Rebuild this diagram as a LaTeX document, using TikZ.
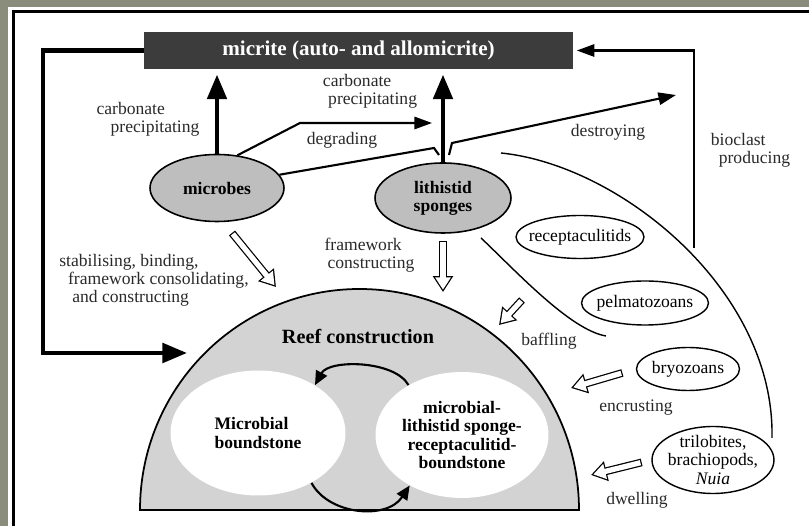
\documentclass[tikz,border=0pt]{standalone}
\usepackage{fontspec}
\setmainfont{Liberation Serif}
\usepackage{xcolor}
\usetikzlibrary{arrows.meta, shapes.geometric, calc}
\definecolor{framegray}{HTML}{8A8C7C}
\definecolor{micritegray}{HTML}{3C3C3C}
\definecolor{biotagray}{HTML}{BEBEBE}
\definecolor{reefgray}{HTML}{D3D3D3}
\definecolor{labelgray}{HTML}{2A2A2A}

\begin{document}
\begin{tikzpicture}[x=0.02cm, y=-0.02cm]

        % 1. Canvas, frame and drawing limits
        \useasboundingbox (0,0) rectangle (809,526);
        \fill[framegray] (0,0) rectangle (809,526);
        \fill[white] (8,7) rectangle (809,526);
        \draw[line width=2.2pt] (13.5,526) -- (13.5,11.5) -- (809,11.5);

        \pgfmathsetmacro{\domerx}{219.5} % half width of the reef dome
        \pgfmathsetmacro{\domery}{221}   % height of the reef dome

        % 2. Styles
        \tikzset{
            proctext/.style={font=\fontsize{10}{10.3}\selectfont, text=labelgray, inner sep=0pt, align=left},
            builder/.style={ellipse, draw, line width=0.9pt, fill=biotagray, inner sep=0pt, align=center, font=\bfseries\fontsize{10}{10.3}\selectfont},
            dweller/.style={ellipse, draw, line width=0.8pt, fill=white, inner xsep=-8pt, inner ysep=-2pt, align=center, font=\fontsize{10}{10.3}\selectfont},
            boundstone/.style={ellipse, fill=white, inner xsep=-8pt, inner ysep=-2pt, font=\bfseries\fontsize{10}{10.3}\selectfont},
            bigarrow/.style={line width=2.5pt, -{Triangle[length=14pt,width=11pt]}},
            thinarrow/.style={line width=1.2pt, -{Triangle[length=10pt,width=7pt]}},
            % hollow block arrow: black outline, white inside
            hollow/.style={line width=4.4pt, -{Triangle[length=9pt,width=11pt]},
                postaction={draw=white, line width=3pt, shorten <=0.7pt, shorten >=1.34pt, -{Triangle[length=6.96pt,width=8.5pt]}}},
            cyclearrow/.style={line width=1.2pt, -{Triangle[length=8pt,width=7pt]}}
        }

        % 3. Reef dome with the two boundstones
        \draw[line width=1pt, fill=reefgray] (140,510) arc[start angle=180, end angle=360, x radius=\domerx, y radius=\domery] -- cycle;
        \node[font=\bfseries\fontsize{11.5}{12}\selectfont, inner sep=0pt] (reef) at (358,337) {Reef construction};
        \node[boundstone, minimum width=3.5cm, minimum height=2.5cm, align=left] (microbialbs) at (258,433) {Microbial\\boundstone};
        \node[boundstone, minimum width=3.46cm, minimum height=2.52cm, align=center] (spongebs) at (462,435) {microbial-\\lithistid sponge-\\receptaculitid-\\boundstone};

        \draw[cyclearrow] (spongebs.137) .. controls +(-14,-25) and +(14,-26) .. (microbialbs.40);
        \draw[cyclearrow] (microbialbs.-43) .. controls +(17,32) and +(-23,35) .. (spongebs.-136);

        % 4. Micrite box and the main reef builders
        \node[fill=micritegray, text=white, font=\bfseries\fontsize{12}{12}\selectfont, minimum width=8.58cm, minimum height=0.74cm, inner sep=0pt] (micrite) at (358.5,50.5) {micrite (auto- and allomicrite)};
        \node[builder, minimum width=2.68cm, minimum height=1.34cm] (microbes) at (217,188) {microbes};
        \node[builder, minimum width=2.72cm, minimum height=1.4cm] (sponges) at (443,198) {lithistid\\sponges};

        % 5. Other organisms
        \node[dweller, minimum width=2.56cm, minimum height=0.86cm] (receptaculitids) at (580,237) {receptaculitids};
        \node[dweller, minimum width=2.54cm, minimum height=0.88cm] (pelmatozoans) at (645,303) {pelmatozoans};
        \node[dweller, minimum width=2.06cm, minimum height=0.86cm] (bryozoans) at (688,369) {bryozoans};
        \node[dweller, minimum width=2.44cm, minimum height=1.34cm] (trilobites) at (713,460) {trilobites,\\brachiopods,\\\textit{Nuia}};

        % Curves around the baffling and bioclast groups
        \draw[line width=0.8pt] (501,153) .. controls (620,165) and (775,290) .. (772,438);
        \draw[line width=0.8pt] (481,238) .. controls (515,270) and (570,330) .. (606,336);

        % 6. Process labels
        \node[proctext] (cpmicrobes) at (148,119) {carbonate\\\hspace*{8pt}precipitating};
        \node[proctext] (cpsponges) at (370,91) {carbonate\\\hspace*{3pt}precipitating};
        \node[proctext] (degrading) at (342,140) {degrading};
        \node[proctext] (destroying) at (608,132) {destroying};
        \node[proctext] (bioclast) at (750.5,150.5) {bioclast\\\hspace*{4.5pt}producing};
        \node[proctext] (framework) at (369.5,255) {framework\\\hspace*{1.7pt}constructing};
        \node[proctext] (stabilising) at (154,280.5) {stabilising, binding,\\\hspace*{5pt}framework consolidating,\\\hspace*{7.4pt}and constructing};
        \node[proctext] (baffling) at (549,341) {baffling};
        \node[proctext] (encrusting) at (636,408) {encrusting};
        \node[proctext] (dwelling) at (637,500) {dwelling};

        % 7. Connectors
        \coordinate (loopleft) at (43,50.5);
        \coordinate (reefentry) at (187,353);
        \coordinate (bioclastfoot) at (694,248);
        \coordinate (degradebend) at (300,123);
        \coordinate (degradetip) at (432,123);
        \coordinate (destroyjog) at (434,148);
        \coordinate (destroytip) at (676,95);
        \coordinate (stabtail) at (232,233);
        \coordinate (stabtip) at (276,287);
        \coordinate (frametip) at (443,292);
        \coordinate (baffletail) at (522,300);
        \coordinate (baffletip) at (499,325);
        \coordinate (encrusttip) at (571,388);
        \coordinate (dwelltip) at (591,475);

        \draw[bigarrow, shorten >=3pt] (microbes.north) -- (microbes.north |- micrite.south);
        \draw[bigarrow, shorten >=3pt] (sponges.north) -- (sponges.north |- micrite.south);
        \draw[bigarrow] (micrite.west) -- (loopleft) |- (reefentry);
        \draw[thinarrow, shorten >=2pt] (bioclastfoot) |- (micrite.east);

        \draw[thinarrow] (microbes.58) -- (degradebend) -- (degradetip);
        \draw[thinarrow] (microbes.12) -- (destroyjog) -- ++(5,7) ++(10,0) -- ++(3,-12) -- (destroytip);

        \draw[hollow] (stabtail) -- (stabtip);
        \draw[hollow] ($(sponges.south)!4pt!(frametip)$) -- (frametip);
        \draw[hollow] (baffletail) -- (baffletip);
        \draw[hollow] ($(bryozoans.west)!0.28cm!(encrusttip)$) -- (encrusttip);
        \draw[hollow] ($(trilobites.west)!0.2cm!(dwelltip)$) -- (dwelltip);

\end{tikzpicture}
\end{document}
